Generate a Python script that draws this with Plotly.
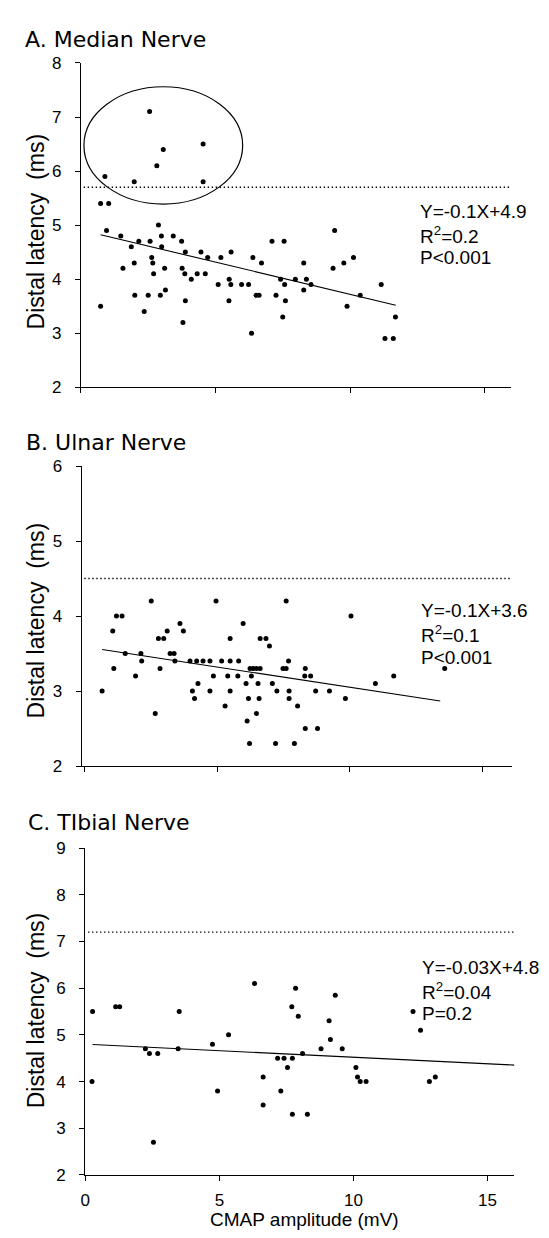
import plotly.graph_objects as go
import numpy as np

W, H = 549, 1238

# ---------------- data ----------------
# Panel A: Median nerve
median_x = [0.89, 1.98, 2.55, 2.82, 3.06, 4.54, 4.54,
            0.73, 1.03, 0.95, 0.73, 1.48, 1.87, 1.56, 1.98, 2.15, 2.0, 2.35, 2.5, 2.57,
            2.63, 2.67, 2.7, 2.88, 2.99, 3.0, 2.95, 3.14, 3.11, 3.43, 3.74, 3.88, 3.76,
            3.86, 3.79, 3.88, 4.1, 4.32, 4.62, 4.46, 4.71, 5.1, 5.2, 5.51, 5.57, 5.5,
            5.58, 5.97, 6.23, 6.39, 6.34, 6.51, 6.62, 6.71, 7.1, 7.25, 7.42, 7.5, 7.57,
            7.6, 7.55, 7.97, 8.28, 8.38, 8.28, 8.55, 9.43, 9.37, 9.77, 10.13, 9.89,
            10.38, 11.16, 11.69, 11.3, 11.61]
median_y = [5.9, 5.8, 7.1, 6.1, 6.4, 6.5, 5.8,
            5.4, 5.4, 4.9, 3.5, 4.8, 4.6, 4.2, 4.3, 4.7, 3.7, 3.4, 3.7, 4.7,
            4.4, 4.3, 4.1, 5.0, 4.8, 4.6, 3.7, 3.8, 4.2, 4.8, 4.7, 4.5, 4.2,
            4.1, 3.2, 3.6, 4.0, 4.1, 4.1, 4.5, 4.4, 3.9, 4.4, 4.0, 3.9, 3.6,
            4.5, 3.9, 3.9, 4.4, 3.0, 3.7, 3.7, 4.3, 4.7, 3.7, 4.0, 3.3, 3.9,
            3.6, 4.7, 4.0, 4.3, 4.0, 3.8, 3.9, 4.9, 4.2, 4.3, 4.4, 3.5,
            3.7, 3.9, 3.3, 2.9, 2.9]

# Panel B: Ulnar nerve
ulnar_x = [0.67, 1.11, 1.07, 1.21, 1.42, 1.54, 1.93, 2.13, 2.16, 2.52, 2.67, 2.79, 2.85,
           2.99, 3.12, 3.23, 3.38, 3.41, 3.6, 3.73, 3.98, 4.07, 4.15, 4.23, 4.28, 4.47,
           4.73, 4.73, 4.86, 4.96, 5.17, 5.3, 5.4, 5.49, 5.49, 5.49, 5.81, 5.78, 5.98,
           6.09, 6.13, 6.18, 6.22, 6.24, 6.29, 6.36, 6.48, 6.48, 6.54, 6.58, 6.62, 6.62,
           6.84, 6.97, 7.08, 7.2, 7.25, 7.6, 7.48, 7.6, 7.69, 7.71, 7.71, 8.03, 7.91,
           8.32, 8.3, 8.52, 8.32, 8.78, 8.71, 9.23, 9.83, 10.04, 10.96, 11.65, 13.57]
ulnar_y = [3.0, 3.3, 3.8, 4.0, 4.0, 3.5, 3.2, 3.5, 3.4, 4.2, 2.7, 3.7, 3.3,
           3.7, 3.8, 3.5, 3.5, 3.4, 3.9, 3.8, 3.4, 3.0, 2.9, 3.4, 3.1, 3.4,
           3.4, 3.0, 3.2, 4.2, 3.4, 2.8, 3.2, 3.7, 3.4, 3.0, 3.4, 3.2, 3.9,
           3.1, 2.6, 2.9, 2.3, 3.3, 3.2, 3.3, 3.3, 2.7, 3.1, 2.9, 3.3, 3.7,
           3.7, 3.6, 3.1, 2.3, 3.0, 4.2, 3.3, 3.3, 3.4, 3.0, 2.9, 2.8, 2.3,
           3.3, 3.2, 3.2, 2.5, 2.5, 3.0, 3.0, 2.9, 4.0, 3.1, 3.2, 3.3]

# Panel C: Tibial nerve
tibial_x = [0.27, 0.25, 1.13, 1.28, 2.24, 2.39, 2.7, 2.54, 3.5, 3.46, 4.74, 5.34, 4.93,
            6.31, 6.63, 6.63, 7.17, 7.41, 7.54, 7.29, 7.7, 7.84, 7.94, 7.72, 8.1, 7.72,
            8.28, 8.79, 9.09, 9.14, 9.32, 9.58, 10.09, 10.15, 10.25, 10.47, 12.22, 12.5,
            12.83, 13.05]
tibial_y = [5.5, 4.0, 5.6, 5.6, 4.7, 4.6, 4.6, 2.7, 5.5, 4.7, 4.8, 5.0, 3.8,
            6.1, 4.1, 3.5, 4.5, 4.5, 4.3, 3.8, 5.6, 6.0, 5.4, 4.5, 4.6, 3.3,
            3.3, 4.7, 5.3, 4.9, 5.85, 4.7, 4.3, 4.1, 4.0, 4.0, 5.5, 5.1,
            4.0, 4.1]

# regression lines (slope, intercept, x start, x end)
fit_median = [-0.119, 4.91, 0.73, 11.7]
fit_ulnar = [-0.054, 3.59, 0.67, 13.4]
fit_tibial = [-0.028, 4.80, 0.27, 16.0]

# upper limit of normal (dotted lines)
limit_median = 5.7
limit_ulnar = 4.5
limit_tibial = 7.2

# ellipse around abnormal median points (x0, x1, y0, y1)
ellipse_median = [0.11, 6.01, 5.39, 7.56]

panel_titles = ["A. Median Nerve", "B. Ulnar Nerve", "C. TIbial Nerve"]
stats_median = ["Y=-0.1X+4.9", "R<sup>2</sup>=0.2", "P<0.001"]
stats_ulnar = ["Y=-0.1X+3.6", "R<sup>2</sup>=0.1", "P<0.001"]
stats_tibial = ["Y=-0.03X+4.8", "R<sup>2</sup>=0.04", "P=0.2"]
y_title = "Distal latency  (ms)"
x_title = "CMAP amplitude (mV)"
x_ticks = [0, 5, 10, 15]

# ---------------- figure ----------------
FONT = "Liberation Sans, Arial, sans-serif"
fig = go.Figure()

panels = [
    dict(x=median_x, y=median_y, fit=fit_median, lim=limit_median, xr=[0, 16], yr=[2, 8],
         xdom=(68.6, 503), ydom=(46.7, 376), suffix="", stats=stats_median,
         stat_pos=(409, [197.7, 221.7, 244.3]), title_pos=(10, 22.5), ytitle_y=218),
    dict(x=ulnar_x, y=ulnar_y, fit=fit_ulnar, lim=limit_ulnar, xr=[-0.1, 16.1], yr=[2, 6],
         xdom=(69.3, 503.5), ydom=(456, 760.7), suffix="2", stats=stats_ulnar,
         stat_pos=(410, [602.7, 626.7, 650]), title_pos=(11, 432.5), ytitle_y=613),
    dict(x=tibial_x, y=tibial_y, fit=fit_tibial, lim=limit_tibial, xr=[0, 16], yr=[2, 9],
         xdom=(73, 506), ydom=(844, 1176), suffix="3", stats=stats_tibial,
         stat_pos=(411, [965, 989, 1012.3]), title_pos=(13, 818), ytitle_y=1009),
]

annotations = []
shapes = []
for i, p in enumerate(panels):
    xa = "x" + p["suffix"]
    ya = "y" + p["suffix"]
    # dotted normal limit
    fig.add_trace(go.Scatter(x=[p["xr"][0] + 0.1, p["xr"][1]], y=[p["lim"], p["lim"]],
                             mode="lines", xaxis=xa, yaxis=ya, hoverinfo="skip",
                             line=dict(color="black", width=1.4, dash="1.4px,2.6px"),
                             showlegend=False))
    # regression line
    s, b, x0, x1 = p["fit"]
    fx = np.array([x0, x1])
    fig.add_trace(go.Scatter(x=fx, y=s * fx + b, mode="lines", xaxis=xa, yaxis=ya,
                             line=dict(color="black", width=1.1), showlegend=False))
    # points
    fig.add_trace(go.Scatter(x=p["x"], y=p["y"], mode="markers", xaxis=xa, yaxis=ya,
                             marker=dict(color="black", size=5), showlegend=False))

    xdom = [p["xdom"][0] / W, p["xdom"][1] / W]
    ydom = [1 - p["ydom"][1] / H, 1 - p["ydom"][0] / H]
    last = (i == 2)
    xaxis = dict(domain=xdom, range=p["xr"], anchor=ya, showline=True, linecolor="black",
                 linewidth=1.3, ticks="outside", ticklen=5, tickwidth=1.2, tickcolor="black",
                 tickvals=x_ticks, showticklabels=last, showgrid=False, zeroline=False,
                 tickfont=dict(family=FONT, size=17, color="black"), ticklabelstandoff=4)
    yaxis = dict(domain=ydom, range=p["yr"], anchor=xa, showline=True, linecolor="black",
                 linewidth=1.3, ticks="outside", ticklen=5, tickwidth=1.2, tickcolor="black",
                 dtick=1, showgrid=False, zeroline=False,
                 tickfont=dict(family=FONT, size=17, color="black"), ticklabelstandoff=10)
    fig.layout["xaxis" + p["suffix"]] = xaxis
    fig.layout["yaxis" + p["suffix"]] = yaxis

    # panel title
    annotations.append(dict(text=panel_titles[i], x=p["title_pos"][0] / W,
                            y=1 - p["title_pos"][1] / H, xref="paper", yref="paper",
                            xanchor="left", yanchor="middle", showarrow=False,
                            font=dict(family="DejaVu Sans", size=22, color="black")))
    # y title
    annotations.append(dict(text=y_title, x=23 / W, y=1 - p["ytitle_y"] / H,
                            xref="paper", yref="paper", textangle=-90,
                            xanchor="center", yanchor="middle", showarrow=False,
                            font=dict(family=FONT, size=23, color="black")))
    # stats
    sx, sys_ = p["stat_pos"]
    for txt, yy in zip(p["stats"], sys_):
        annotations.append(dict(text=txt, x=sx / W, y=1 - yy / H, xref="paper", yref="paper",
                                xanchor="left", yanchor="middle", showarrow=False,
                                font=dict(family=FONT, size=19, color="black")))

# x axis title
annotations.append(dict(text=x_title, x=294 / W, y=1 - 1221 / H, xref="paper", yref="paper",
                        xanchor="center", yanchor="middle", showarrow=False,
                        font=dict(family=FONT, size=19, color="black")))

ex0, ex1, ey0, ey1 = ellipse_median
shapes.append(dict(type="circle", xref="x", yref="y", x0=ex0, x1=ex1, y0=ey0, y1=ey1,
                   line=dict(color="black", width=1.2)))

fig.update_layout(width=W, height=H, autosize=False,
                  margin=dict(l=0, r=0, t=0, b=0),
                  paper_bgcolor="white", plot_bgcolor="white",
                  annotations=annotations, shapes=shapes, showlegend=False)

fig.write_html("out.html")
